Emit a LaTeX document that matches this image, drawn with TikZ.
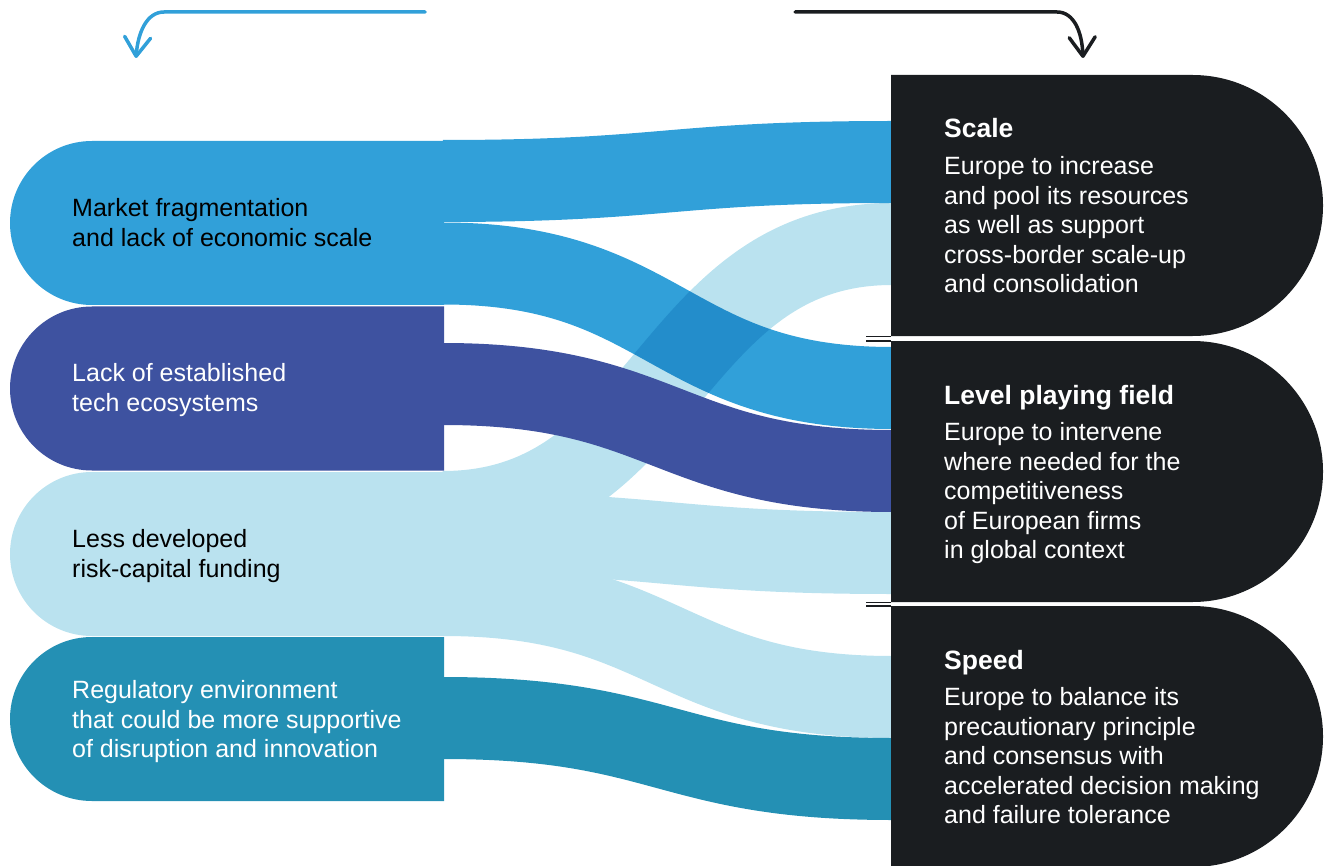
\documentclass[tikz,border=0pt]{standalone}
\usepackage{fontspec}
\setmainfont{Liberation Sans}
\usepackage{xcolor}
\usepackage{tikz}
\usetikzlibrary{positioning, arrows.meta, shapes.misc}

\definecolor{flowblue}{HTML}{31A0D9}
\definecolor{flownavy}{HTML}{3E52A0}
\definecolor{flowpale}{HTML}{BAE2EF}
\definecolor{flowteal}{HTML}{2490B4}
\definecolor{boxdark}{HTML}{1A1D20}

\tikzset{
  cause/.style={rounded rectangle, rounded rectangle right arc=none, minimum width=434pt, minimum height=164pt, inner sep=0pt},
  lever/.style={rounded rectangle, rounded rectangle left arc=none, fill=boxdark, minimum width=432pt, minimum height=261pt, inner sep=0pt},
  flow/.style={line width=82pt},
  lbl/.style={anchor=north west, inner sep=0pt, align=left, font=\fontsize{25}{29.4}\selectfont, execute at begin node=\strut},
  ttl/.style={anchor=base west, inner sep=0pt, text=white, font=\fontsize{26.5}{30}\selectfont\bfseries},
  cue/.style={line width=3.5pt, line cap=round, -{Straight Barb[length=19pt, width=26pt, round]}},
  brk/.style={boxdark, line width=1.4pt}
}

\begin{document}
\begin{tikzpicture}[x=1pt, y=-1pt]
\useasboundingbox (0,0) rectangle (1324,866);

% flow ends
\coordinate (l1a) at (443,181);
\coordinate (l1b) at (443,263.5);
\coordinate (l2) at (443,384);
\coordinate (l3a) at (443,512);
\coordinate (l3b) at (443,533);
\coordinate (l3c) at (443,595);
\coordinate (l4) at (443,718);
\coordinate (r1a) at (892,162);
\coordinate (r1b) at (892,388);
\coordinate (r2) at (892,471);
\coordinate (r3a) at (892,244);
\coordinate (r3b) at (892,553);
\coordinate (r3c) at (892,697);
\coordinate (r4) at (892,779);

% flows
\draw [flow, flowpale] (l3a) .. controls +(224,0) and +(-224,0) .. (r3a);
\draw [flow, flowpale] (l3b) .. controls +(224,0) and +(-224,0) .. (r3b);
\draw [flow, flowpale] (l3c) .. controls +(224,0) and +(-224,0) .. (r3c);
\draw [flow, flowteal] (l4) .. controls +(224,0) and +(-224,0) .. (r4);
\draw [flow, flownavy] (l2) .. controls +(224,0) and +(-224,0) .. (r2);
\begin{scope}[blend mode=multiply]
\draw [flow, flowblue] (l1a) .. controls +(224,0) and +(-224,0) .. (r1a);
\draw [flow, flowblue] (l1b) .. controls +(224,0) and +(-224,0) .. (r1b);
\end{scope}

% causes
\node [cause, fill=flowblue] (mkt) at (227,223) {};
\node [cause, fill=flownavy] (tech) at (227,388.5) {};
\node [cause, fill=flowpale] (fund) at (227,554) {};
\node [cause, fill=flowteal] (reg) at (227,719) {};

\node [lbl, text=black] (mkt-t) at (72,198.5) {Market fragmentation\\and lack of economic scale};
\node [lbl, text=white] (tech-t) at (72,363.5) {Lack of established\\tech ecosystems};
\node [lbl, text=black] (fund-t) at (72,529.5) {Less developed\\risk-capital funding};
\node [lbl, text=white] (reg-t) at (72,680.5) {Regulatory environment\\that could be more supportive\\of disruption and innovation};

% levers
\node [lever] (scale) at (1107,205.5) {};
\node [lever] (level) at (1107,471.5) {};
\node [lever] (speed) at (1107,736.5) {};

\draw [brk] (scale.south west) -- ++(-25,0);
\draw [brk] (level.north west) -- ++(-25,0);
\draw [brk] (level.south west) -- ++(-25,0);
\draw [brk] (speed.north west) -- ++(-25,0);

\node [ttl] (scale-t) at (944,138) {Scale};
\node [lbl, text=white] (scale-d) at (944,156.5) {Europe to increase\\and pool its resources\\as well as support\\cross-border scale-up\\and consolidation};
\node [ttl] (level-t) at (944,404) {Level playing field};
\node [lbl, text=white] (level-d) at (944,422.5) {Europe to intervene\\where needed for the\\competitiveness\\of European firms\\in global context};
\node [ttl] (speed-t) at (944,669) {Speed};
\node [lbl, text=white] (speed-d) at (944,687.5) {Europe to balance its\\precautionary principle\\and consensus with\\accelerated decision making\\and failure tolerance};

% direction cues
\coordinate (back-s) at (425,12);
\coordinate (back-c) at (164,12);
\coordinate (back-e) at (136,58);
\coordinate (fwd-s) at (795,12);
\coordinate (fwd-c) at (1057,12);
\coordinate (fwd-e) at (1083,58);
\draw [cue, flowblue] (back-s) -- (back-c) .. controls (147,12) and (138,32) .. (back-e);
\draw [cue, boxdark] (fwd-s) -- (fwd-c) .. controls (1074,12) and (1082,32) .. (fwd-e);

\end{tikzpicture}
\end{document}
